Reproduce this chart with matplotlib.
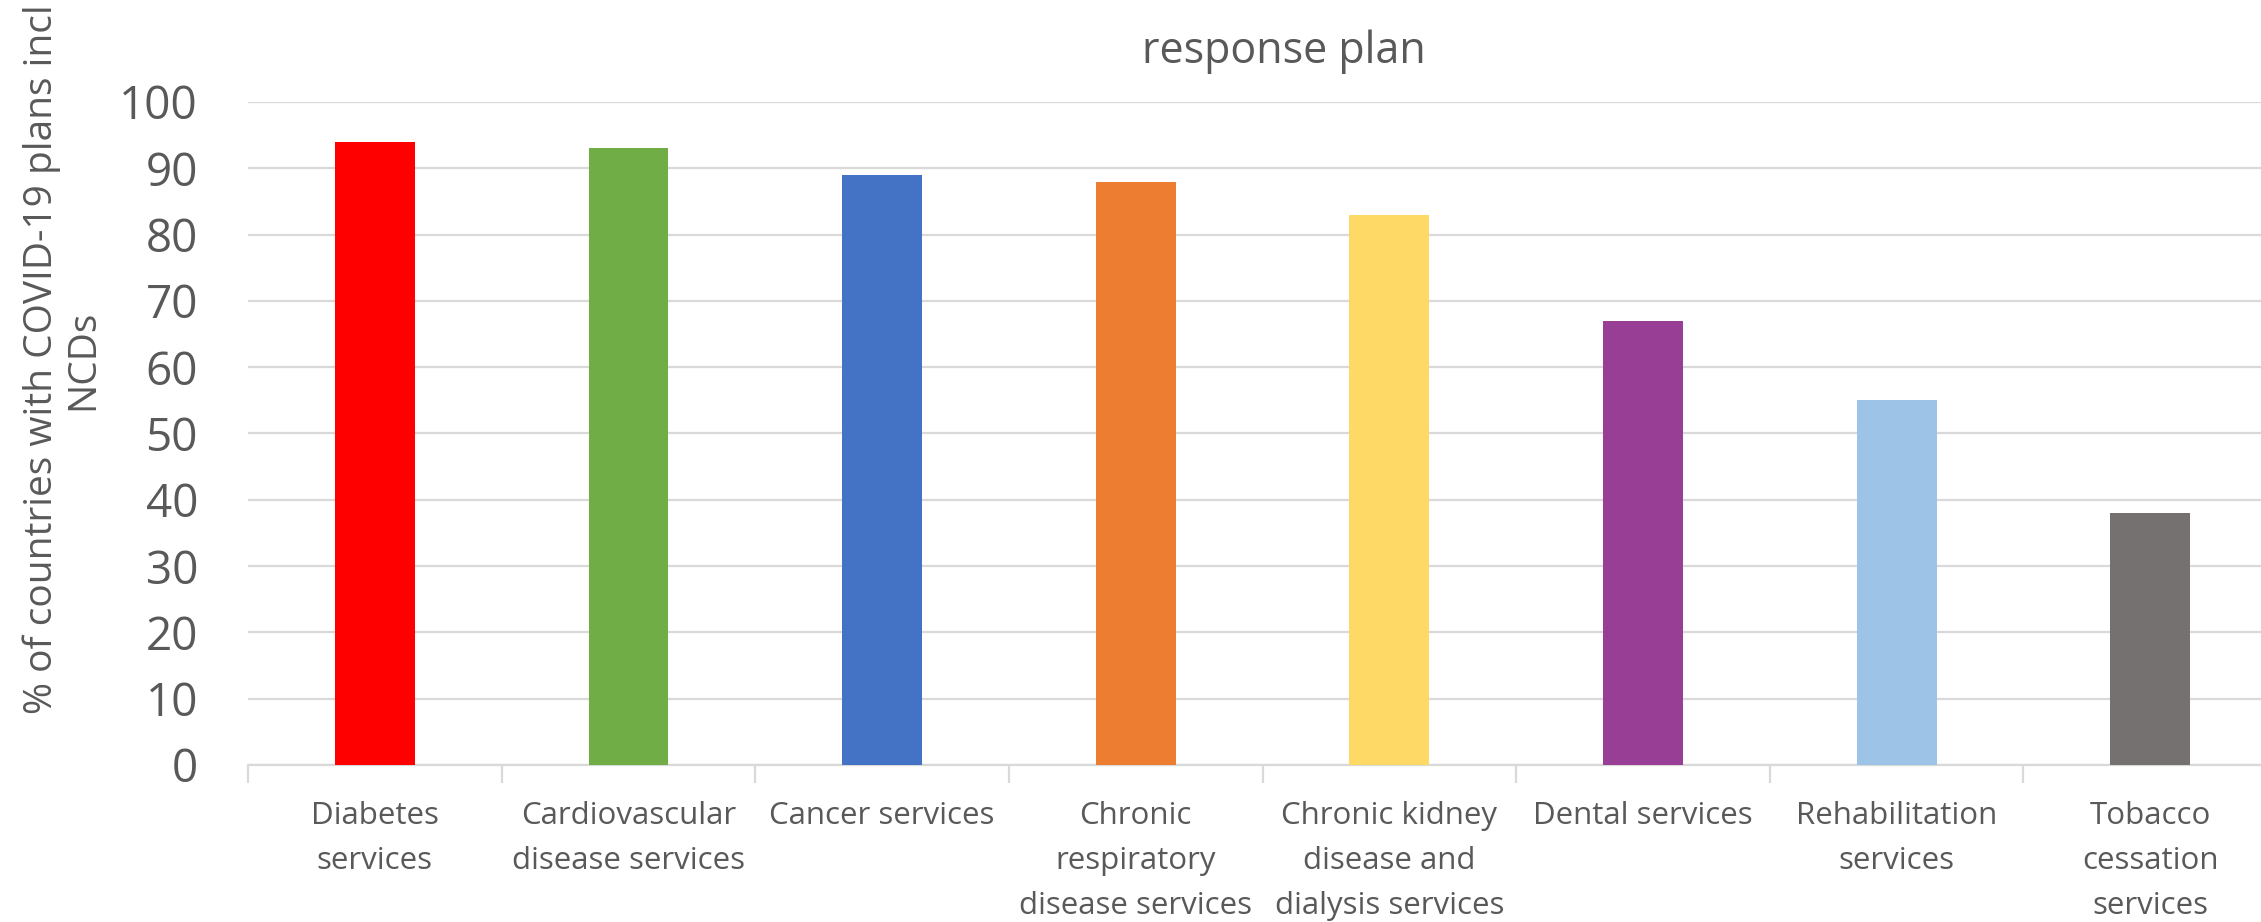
import matplotlib.pyplot as plt
import numpy as np

# Share of national COVID-19 plans that include each NCD service (%)
categories = ['Diabetes\nservices', 'Cardiovascular\ndisease services', 'Cancer services',
              'Chronic\nrespiratory\ndisease services', 'Chronic kidney\ndisease and\ndialysis services',
              'Dental services', 'Rehabilitation\nservices', 'Tobacco\ncessation\nservices']
values = [94, 93, 89, 88, 83, 67, 55, 38]
bar_colors = ['#FF0000', '#70AD47', '#4472C4', '#ED7D31', '#FFD966', '#983E95', '#9DC3E6', '#767171']
y_ticks = [0, 10, 20, 30, 40, 50, 60, 70, 80, 90, 100]

plt.rcParams['font.family'] = ['Open Sans', 'DejaVu Sans']
text_color = '#595959'
grid_color = '#D9D9D9'

fig = plt.figure(figsize=(22.61, 9.22), dpi=100)
ax = fig.add_axes([0.1097, 0.1703, 0.8974, 0.7191])

x = np.arange(len(categories))
ax.bar(x, values, width=0.315, color=bar_colors, zorder=3)

ax.set_xlim(-0.5, len(categories) - 0.5)
ax.set_ylim(0, 100)
ax.set_yticks(y_ticks)
ax.tick_params(axis='y', length=0, pad=36, labelsize=33, labelcolor=text_color)
ax.yaxis.grid(True, color=grid_color, linewidth=1.6)
ax.set_axisbelow(True)

# category labels centred under bars, tick marks between categories
ax.set_xticks(x)
ax.set_xticklabels(categories, fontsize=22.5, color=text_color, linespacing=1.66)
ax.tick_params(axis='x', which='major', length=0, pad=26)
ax.set_xticks(np.arange(-0.5, len(categories), 1.0), minor=True)
ax.tick_params(axis='x', which='minor', length=13, width=1.6, color=grid_color)

for side in ['top', 'right', 'left']:
    ax.spines[side].set_visible(False)
ax.spines['bottom'].set_color(grid_color)
ax.spines['bottom'].set_linewidth(1.6)

fig.text(0.0275, 0.61, '% of countries with COVID-19 plans incl\nNCDs', rotation=90,
         ha='center', va='center', multialignment='center', fontsize=28,
         color=text_color, linespacing=1.1)
fig.text(0.568, 1 - 63 / 922, 'response plan', ha='center', va='baseline',
         fontsize=31, color=text_color)

fig.savefig('out.png', dpi=100)
